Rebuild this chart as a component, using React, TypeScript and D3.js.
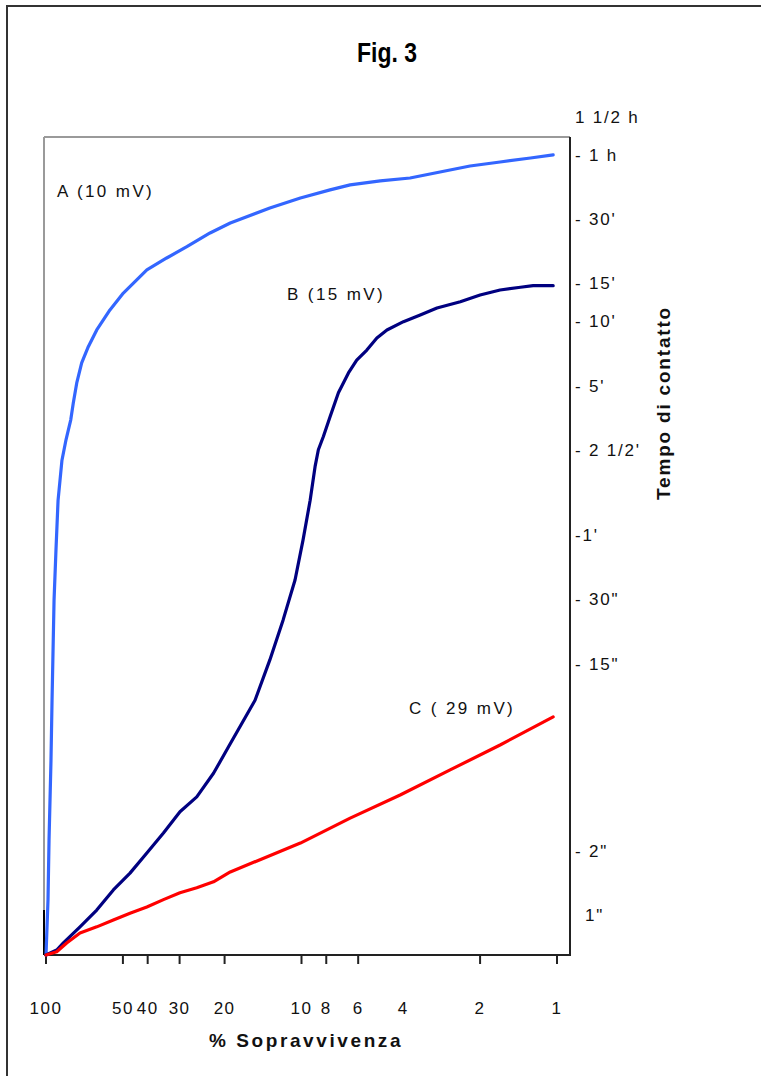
import React from 'react';
import * as d3 from 'd3';

// ---- data (survival %, contact time in seconds) ----
const xTickValues = [100, 50, 40, 30, 20, 10, 8, 6, 2, 1];
const xLabelValues = [100, 50, 40, 30, 20, 10, 8, 6, 4, 2, 1];

const yTickSeconds = [5400, 3600, 1800, 900, 600, 300, 150, 60, 30, 15, 2, 1];
const yTickLabels = ['1 1/2 h', '- 1 h', "- 30'", "- 15'", "- 10'", "- 5'", "- 2 1/2'", "-1'", '- 30"', '- 15"', '- 2"', '1"'];

const seriesNames = ['A (10 mV)', 'B (15 mV)', 'C ( 29 mV)'];
const seriesColors = ['#3366ff', '#000080', '#ff0000'];

const aSurvival = [100, 98.2, 97.3, 95.6, 94.7, 93.0, 91.4, 89.7, 86.6, 83.5, 80.0, 78.2, 75.8, 72.5, 68.3, 63.3, 56.2, 49.8, 40.3, 33.7, 28.1, 22.8, 19.0, 13.3, 10.1, 7.73, 6.45, 4.92, 3.76, 2.87, 2.19, 1.67, 1.27, 1.035];
const aSeconds = [0.65, 1.18, 2.24, 5.3, 10.1, 29.7, 51, 87, 134, 167, 207, 248, 308, 382, 455, 545, 676, 811, 1040, 1183, 1336, 1549, 1725, 2028, 2259, 2463, 2600, 2713, 2800, 2988, 3186, 3327, 3473, 3589];

const bSurvival = [100, 90.8, 85.5, 73.6, 63.3, 54.5, 46.9, 40.3, 34.7, 29.9, 25.7, 22.1, 19.3, 15.2, 13.3, 11.8, 10.6, 9.86, 9.25, 8.85, 8.59, 8.21, 7.73, 7.17, 6.55, 6.08, 5.55, 5.07, 4.63, 3.99, 3.43, 2.95, 2.39, 2.0, 1.67, 1.39, 1.24, 1.035];
const bSeconds = [0.65, 0.686, 0.74, 0.88, 1.055, 1.31, 1.57, 1.95, 2.42, 3.04, 3.57, 4.6, 6.12, 10.1, 15.6, 24.0, 36.9, 56.8, 87, 125, 150, 173, 214, 277, 343, 394, 439, 500, 545, 596, 640, 690, 739, 794, 838, 863, 878, 878];

const cSurvival = [100, 90.8, 83.0, 73.6, 63.3, 54.5, 46.9, 40.3, 34.7, 29.9, 25.7, 22.1, 19.0, 10.1, 6.45, 4.11, 2.62, 1.67, 1.035];
const cSeconds = [0.65, 0.673, 0.74, 0.824, 0.88, 0.948, 1.02, 1.09, 1.18, 1.27, 1.34, 1.43, 1.59, 2.17, 2.84, 3.64, 4.77, 6.24, 8.44];

const FONT = 'Arial, "Liberation Sans", Helvetica, sans-serif';

export default function App() {
  const W = 761;
  const H = 1076;
  const left = 44, top = 137, right = 570, bottom = 955;

  const x = d3.scaleLog().domain([100, 1]).range([46, 557]);
  const y = d3.scaleLog().domain([1, 5400]).range([915, 117]);

  const line = d3.line<[number, number]>()
    .x(d => x(d[0]))
    .y(d => y(d[1]));

  const series = [
    d3.zip(aSurvival, aSeconds) as [number, number][],
    d3.zip(bSurvival, bSeconds) as [number, number][],
    d3.zip(cSurvival, cSeconds) as [number, number][],
  ];

  const labelPos = [
    { x: 57, y: 197 },
    { x: 287, y: 300 },
    { x: 409, y: 714 },
  ];

  return (
    <svg width={W} height={H} style={{ position: 'absolute', left: 0, top: 0, background: '#fff' }}
      fontFamily={FONT}>
      <rect x={0} y={0} width={W} height={H} fill="#fff" />
      {/* outer border */}
      <path d={`M7,${H + 5} L7,6 L${W + 5},6`} fill="none" stroke="#333" strokeWidth={2} />

      {/* title */}
      <text x={387} y={62} textAnchor="middle" fontWeight="bold" fontSize={28}
        textLength={60} lengthAdjust="spacingAndGlyphs">Fig. 3</text>

      {/* plot frame */}
      <line x1={left} y1={top} x2={right} y2={top} stroke="#9a9a9a" strokeWidth={2} />
      <line x1={left} y1={top} x2={left} y2={bottom} stroke="#9a9a9a" strokeWidth={2} />
      <line x1={left} y1={bottom - 45} x2={left} y2={bottom} stroke="#000" strokeWidth={2} />
      <line x1={right} y1={top} x2={right} y2={bottom + 1} stroke="#222" strokeWidth={2} />
      <line x1={left} y1={bottom} x2={right} y2={bottom} stroke="#222" strokeWidth={2} />

      {/* x ticks */}
      {xTickValues.map(v => (
        <line key={'t' + v} x1={x(v)} x2={x(v)} y1={bottom} y2={bottom + 9} stroke="#222" strokeWidth={2} />
      ))}
      {xLabelValues.map(v => (
        <text key={'l' + v} x={x(v)} y={1014} textAnchor="middle" fontSize={17} letterSpacing={1.5} fill="#111">{v}</text>
      ))}
      <text x={306} y={1047} textAnchor="middle" fontWeight="bold" fontSize={19} letterSpacing={2.6} fill="#111">% Sopravvivenza</text>

      {/* y labels */}
      {yTickSeconds.map((t, i) => (
        <text key={'y' + t} x={yTickLabels[i].startsWith('1"') ? 585 : 575} y={y(t)} dy="0.36em"
          fontSize={17} letterSpacing={1.8} fill="#111">{yTickLabels[i]}</text>
      ))}
      <text transform="translate(670,403) rotate(-90)" textAnchor="middle" fontWeight="bold" fontSize={19}
        letterSpacing={1.8} fill="#111">Tempo di contatto</text>

      {/* curves */}
      {series.map((s, i) => (
        <path key={'s' + i} d={line(s) || ''} fill="none" stroke={seriesColors[i]} strokeWidth={3.2}
          strokeLinejoin="round" strokeLinecap="round" />
      ))}

      {/* curve labels */}
      {seriesNames.map((n, i) => (
        <text key={'n' + i} x={labelPos[i].x} y={labelPos[i].y} fontSize={17} letterSpacing={2.4} fill="#111">{n}</text>
      ))}
    </svg>
  );
}
